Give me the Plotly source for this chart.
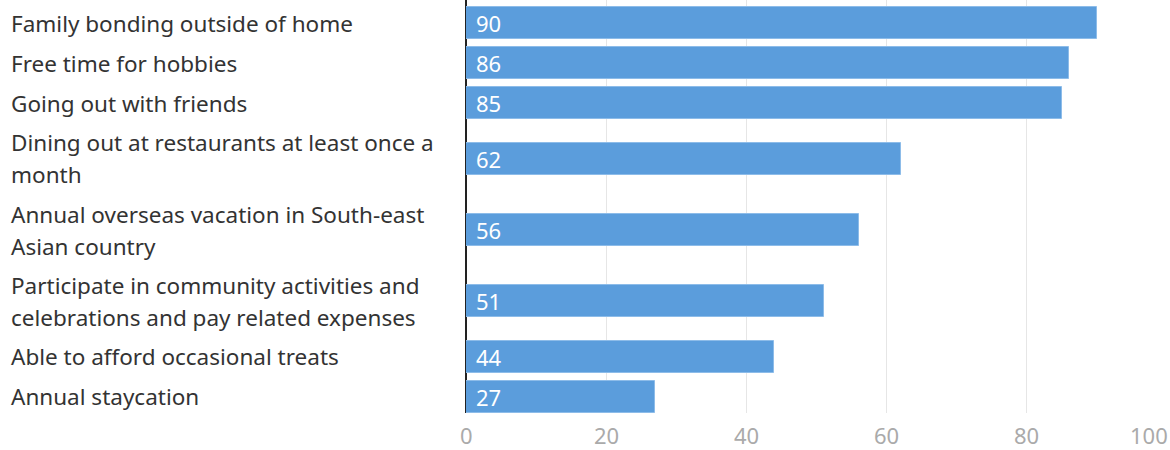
import plotly.graph_objects as go

categories = [
    "Family bonding outside of home",
    "Free time for hobbies",
    "Going out with friends",
    "Dining out at restaurants at least once a<br>month",
    "Annual overseas vacation in South-east<br>Asian country",
    "Participate in community activities and<br>celebrations and pay related expenses",
    "Able to afford occasional treats",
    "Annual staycation",
]
values = [90, 86, 85, 62, 56, 51, 44, 27]
tick_values = [0, 20, 40, 60, 80, 100]
tick_labels = ["0", "20", "40", "60", "80", "100"]

# Row layout: two-line labels take more vertical room
SINGLE, DOUBLE = 1.0, 1.78
heights = [DOUBLE if "<br>" in c else SINGLE for c in categories]
positions = []
cur = 0.0
for i, h in enumerate(heights):
    if i > 0:
        cur += heights[i - 1] / 2 + h / 2
    positions.append(cur)

FONT = "Noto Sans"
BAR = "#5b9ddc"

fig = go.Figure(
    go.Bar(
        x=values,
        y=positions,
        orientation="h",
        width=0.8,
        marker=dict(color=BAR, line=dict(color="#8dbce9", width=1)),
        hoverinfo="skip",
    )
)

annotations = []
line_px = 32
for cat, pos in zip(categories, positions):
    lines = cat.split("<br>")
    n = len(lines)
    for i, ln in enumerate(lines):
        annotations.append(
            dict(
                x=0, xref="paper", y=pos, yref="y",
                text=ln, showarrow=False,
                xanchor="left", yanchor="middle",
                xshift=9, yshift=((n - 1) / 2 - i) * line_px,
                font=dict(family=FONT, size=22.5, color="#333333"),
            )
        )
# value labels inside the bars, at the bar base
for v, pos in zip(values, positions):
    annotations.append(
        dict(
            x=0, xref="x", y=pos, yref="y",
            text=str(v), showarrow=False,
            xanchor="left", yanchor="middle",
            xshift=8, yshift=0,
            font=dict(family=FONT, size=22, color="white"),
        )
    )
for v, t in zip(tick_values, tick_labels):
    last = v == tick_values[-1]
    annotations.append(
        dict(
            x=v, xref="x", y=0, yref="paper",
            text=t, showarrow=False,
            xanchor="right" if last else "center", yanchor="top",
            xshift=3 if last else 0, yshift=-5,
            font=dict(family=FONT, size=22, color="#aaaaaa"),
        )
    )

fig.update_layout(
    width=1170, height=450,
    margin=dict(l=0, r=3, t=0, b=37),
    paper_bgcolor="white", plot_bgcolor="white",
    showlegend=False,
    bargap=0,
    xaxis=dict(
        domain=[466 / 1167, 1.0],
        range=[0, 100],
        tickvals=tick_values,
        showticklabels=False,
        showgrid=True, gridcolor="#e6e6e6", gridwidth=1,
        zeroline=True, zerolinecolor="#222222", zerolinewidth=2,
        showline=False, fixedrange=True,
    ),
    yaxis=dict(
        range=[positions[-1] + 0.4, positions[0] - 0.575],
        showticklabels=False, showgrid=False, zeroline=False,
        showline=False, fixedrange=True,
    ),
    annotations=annotations,
)

fig.write_html("out.html")
